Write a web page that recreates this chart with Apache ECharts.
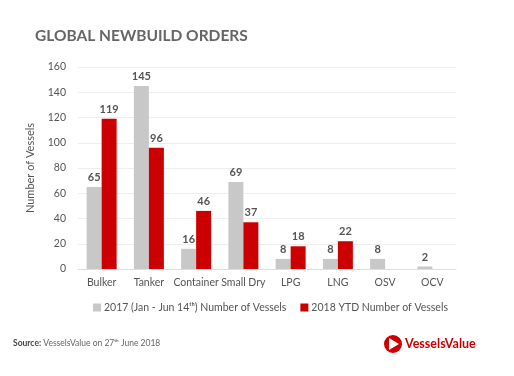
<!DOCTYPE html>
<html>
<head>
<meta charset="utf-8">
<script src="https://cdn.jsdelivr.net/npm/echarts@6/dist/echarts.min.js"></script>
<style>
  html, body { margin: 0; padding: 0; background: #fff; }
  #show_picture { width: 514px; height: 376px; }
</style>
</head>
<body>
<div id="show_picture"></div>
<script>
const categories = ['Bulker', 'Tanker', 'Container', 'Small Dry', 'LPG', 'LNG', 'OSV', 'OCV'];
const orders2017 = [65, 145, 16, 69, 8, 8, 8, 2];
const orders2018 = [119, 96, 46, 37, 18, 22, null, null];
const yTicks = { min: 0, max: 160, interval: 20 };

const font = 'Lato, "Open Sans", sans-serif';
const grey = '#c8c8c8';
const red = '#cc0000';

let myChart = echarts.init(document.getElementById('show_picture'));

let option = {
    animation: false,
    textStyle: { fontFamily: font, color: '#555' },
    title: {
        text: 'GLOBAL NEWBUILD ORDERS',
        left: 30, top: 23,
        textStyle: { fontFamily: font, fontSize: 15.5, fontWeight: 'bold', color: '#666' }
    },
    grid: { left: 78, right: 58, top: 67, bottom: 107 },
    legend: {
        bottom: 58, left: 88,
        itemWidth: 8, itemHeight: 8, itemGap: 14,
        icon: 'rect',
        textStyle: { fontFamily: font, fontSize: 10.5, color: '#555', padding: [0, 0, 0, -2] },
        data: ['2017 (Jan - Jun 14ᵗʰ) Number of Vessels', '2018 YTD Number of Vessels']
    },
    xAxis: {
        type: 'category',
        data: categories,
        axisLine: { lineStyle: { color: '#ddd' } },
        axisTick: { show: false },
        axisLabel: { color: '#555', fontSize: 10.5, margin: 8, interval: 0 }
    },
    yAxis: {
        type: 'value',
        min: yTicks.min, max: yTicks.max, interval: yTicks.interval,
        name: 'Number of Vessels',
        nameLocation: 'middle',
        nameGap: 42,
        nameTextStyle: { color: '#555', fontSize: 11 },
        axisLine: { show: false },
        axisTick: { show: false },
        axisLabel: { color: '#555', fontSize: 10.5, margin: 12 },
        splitLine: { lineStyle: { color: '#eee' } }
    },
    series: [
        {
            name: '2017 (Jan - Jun 14ᵗʰ) Number of Vessels',
            type: 'bar',
            data: orders2017,
            barWidth: 15,
            barGap: '0%',
            itemStyle: { color: grey },
            label: { show: true, position: 'top', color: '#555', fontSize: 11, fontWeight: 'bold', distance: 4 }
        },
        {
            name: '2018 YTD Number of Vessels',
            type: 'bar',
            data: orders2018,
            barWidth: 15,
            itemStyle: { color: red },
            label: { show: true, position: 'top', color: '#555', fontSize: 11, fontWeight: 'bold', distance: 4 }
        }
    ],
    graphic: [
        {
            type: 'text', left: 13, top: 339,
            style: {
                text: '{b|Source:} VesselsValue on 27ᵗʰ June 2018',
                rich: { b: { fontWeight: 'bold', fontSize: 8.5, fontFamily: font, fill: '#444' } },
                fontSize: 8.5, fontFamily: font, fill: '#666'
            }
        },
        {
            type: 'circle', shape: { cx: 393, cy: 344, r: 9 },
            style: { fill: red }
        },
        {
            type: 'polygon', shape: { points: [[389, 338], [389, 350], [399, 344]] },
            style: { fill: '#fff' }
        },
        {
            type: 'text', left: 405, top: 337,
            style: { text: 'VesselsValue', fontSize: 12.5, fontWeight: 'bold', fontFamily: font, fill: red }
        }
    ]
};

option && myChart.setOption(option);
</script>
</body>
</html>
